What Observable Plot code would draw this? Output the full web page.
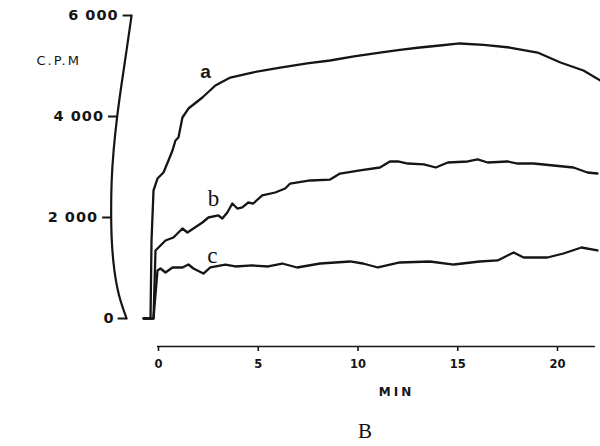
<!DOCTYPE html>
<html>
<head>
<meta charset="utf-8">
<script src="https://cdn.jsdelivr.net/npm/d3@7"></script>
<script src="https://cdn.jsdelivr.net/npm/@observablehq/plot@0.6"></script>
<style>
  body { margin: 0; background: #fff; }
  #wrap { position: relative; width: 600px; height: 446px; }
  #cap { position: absolute; left: 0; top: 416px; width: 730px; text-align: center;
         font-family: "Liberation Serif", serif; font-size: 21px; line-height: 30px; color: #111; }
</style>
</head>
<body>
<div id="wrap"><div id="chart"></div><div id="cap">B</div></div>
<script>
// ---- data (minutes, counts per minute) ----
const aMin = [-0.75, -0.4, -0.35, -0.25, -0.05, 0.25, 0.5, 0.7, 0.85, 1.0, 1.2, 1.5, 2.2, 2.85, 3.6, 4.7, 6.1, 7.45, 8.6, 9.8, 11.1, 12.1, 13.1, 14.1, 15.1, 16.3, 17.6, 19.0, 20.15, 21.3, 22.15];
const aCpm = [0, 0, 1545, 2535, 2772, 2891, 3129, 3327, 3525, 3584, 3980, 4158, 4376, 4614, 4772, 4871, 4970, 5050, 5109, 5190, 5267, 5320, 5366, 5406, 5446, 5420, 5366, 5267, 5069, 4911, 4713];

const bMin = [-0.75, -0.25, -0.15, 0, 0.35, 0.75, 1.2, 1.45, 1.75, 2.2, 2.5, 3.0, 3.2, 3.45, 3.7, 3.95, 4.2, 4.5, 4.75, 5.2, 5.85, 6.35, 6.6, 7.6, 8.6, 9.1, 10.1, 11.1, 11.6, 12.0, 12.5, 13.3, 13.9, 14.5, 15.5, 16.0, 16.5, 17.5, 18.0, 18.8, 19.8, 20.8, 21.5, 22.0];
const bCpm = [0, 0, 1347, 1406, 1545, 1604, 1782, 1703, 1782, 1901, 2000, 2040, 1980, 2099, 2277, 2178, 2200, 2297, 2277, 2436, 2495, 2574, 2673, 2733, 2752, 2871, 2931, 2990, 3109, 3109, 3069, 3050, 2990, 3089, 3109, 3149, 3089, 3109, 3069, 3069, 3030, 2990, 2891, 2871];

const cMin = [-0.75, -0.25, -0.05, 0.1, 0.35, 0.7, 1.2, 1.5, 1.75, 2.25, 2.6, 3.35, 3.85, 4.7, 5.5, 6.2, 6.95, 8.1, 9.6, 10.25, 11.0, 12.1, 13.6, 14.8, 16.1, 17.0, 17.8, 18.3, 19.5, 20.3, 21.2, 22.0];
const cCpm = [0, 0, 950, 990, 911, 1010, 1010, 1069, 990, 891, 1010, 1069, 1030, 1050, 1030, 1089, 1010, 1089, 1129, 1089, 1010, 1109, 1129, 1069, 1129, 1149, 1307, 1208, 1208, 1287, 1406, 1347];

// hand-drawn left axis spine (minutes, cpm)
const spineMin = [-1.35, -1.60, -1.85, -2.08, -2.26, -2.36, -2.38, -2.36, -2.23, -2.01, -1.60];
const spineCpm = [6000, 5307, 4653, 4000, 3327, 2733, 2139, 1545, 950, 455, 0];

const yTickValues = [0, 2000, 4000, 6000];
const yTickLabels = ["0", "2 000", "4 000", "6 000"];
const xTickValues = [0, 5, 10, 15, 20];

const curveNames = ["a", "b", "c"];
const curveLabelMin = [2.36, 2.76, 2.7];
const curveLabelCpm = [4890, 2376, 1248];

// ---- build tables ----
const seriesList = [
  {key: "a", min: aMin, cpm: aCpm},
  {key: "b", min: bMin, cpm: bCpm},
  {key: "c", min: cMin, cpm: cCpm}
];
const rows = seriesList.flatMap(s => s.min.map((m, i) => ({series: s.key, min: m, cpm: s.cpm[i]})));
const spine = spineMin.map((m, i) => ({min: m, cpm: spineCpm[i]}));
const spineAt = d3.scaleLinear().domain(spineCpm).range(spineMin);
const yTicks = yTickValues.map((v, i) => ({v, label: yTickLabels[i]}));
const labels = curveNames.map((n, i) => ({name: n, min: curveLabelMin[i], cpm: curveLabelCpm[i]}));

const ink = "#151515";
const tickLen = 0.45;

const chart = Plot.plot({
  width: 600,
  height: 416,
  marginLeft: 158,
  marginRight: 43,
  marginTop: 15,
  marginBottom: 70,
  x: {domain: [0, 20]},
  y: {domain: [0, 6000], range: [318, 15], axis: null},
  marks: [
    // left spine
    Plot.line(spine, {x: "min", y: "cpm", stroke: ink, strokeWidth: 2.2, curve: "basis"}),
    Plot.link(yTicks, {x1: d => spineAt(d.v) - tickLen, x2: d => spineAt(d.v), y1: "v", y2: "v", stroke: ink, strokeWidth: 2}),
    Plot.text(yTicks, {x: d => spineAt(d.v) - tickLen, y: "v", text: "label", textAnchor: "end", dx: -4,
      fontFamily: "DejaVu Sans", fontWeight: "bold", fontSize: 14.5, fill: ink}),
    Plot.text(["C.P.M"], {frameAnchor: "top-left", dx: -122, dy: 40, fontFamily: "DejaVu Sans", fontSize: 13, fill: ink}),
    // x axis
    Plot.ruleY([0], {x1: -0.05, x2: 21.9, dy: 28, stroke: ink, strokeWidth: 1.6}),
    Plot.axisX(xTickValues, {tickSize: 5, tickPadding: 8, strokeWidth: 1.6, stroke: ink, fill: ink,
      fontFamily: "DejaVu Sans", fontWeight: "bold", fontSize: 11.5, label: null}),
    Plot.text(["MIN"], {frameAnchor: "bottom", dx: 38.5, dy: 49, fontFamily: "DejaVu Sans", fontWeight: "bold", fontSize: 12, fill: ink}),
    // curves
    Plot.line(rows, {x: "min", y: "cpm", z: "series", stroke: ink, strokeWidth: 2.3, strokeLinejoin: "round"}),
    Plot.text(labels.filter(d => d.name === "a"), {x: "min", y: "cpm", text: "name", fontFamily: "Liberation Sans", fontWeight: "bold", fontSize: 19, fill: ink}),
    Plot.text(labels.filter(d => d.name !== "a"), {x: "min", y: "cpm", text: "name", fontFamily: "Liberation Serif", fontSize: 23, fill: ink})
  ]
});

d3.select(chart).selectAll("text").each(function () {
  const t = this.textContent;
  if (t === "MIN") this.setAttribute("letter-spacing", "3px");
  if (t === "C.P.M") this.setAttribute("letter-spacing", "2px");
  if (yTickLabels.includes(t) && t.length > 1) this.setAttribute("letter-spacing", "1px");
});

document.getElementById("chart").appendChild(chart);
</script>
</body>
</html>
